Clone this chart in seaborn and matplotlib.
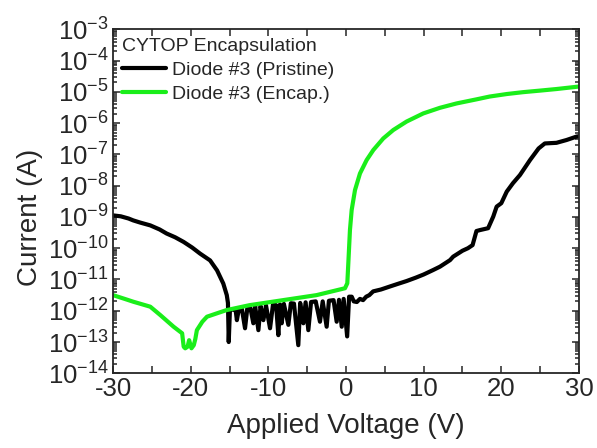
import numpy as np
import pandas as pd
import matplotlib
matplotlib.use("Agg")
import matplotlib.pyplot as plt
import seaborn as sns
from matplotlib.ticker import LogLocator, MultipleLocator, NullFormatter

# %% datos (V, log10 I)
v_pristine = [-30.0, -29.0, -28.0, -27.4, -26.5, -25.2, -24.0, -23.1, -22.0, -20.9,
              -19.8, -18.8, -17.5, -16.6, -15.8, -15.35, -15.2, -15.1,
              -14.95, -14.6, -14.2, -14.05, -13.8, -13.4, -13.0, -12.7, -12.3, -11.93,
              -11.7, -11.28, -11.0, -10.64, -10.3, -9.78, -9.4, -9.0, -8.71, -8.5,
              -8.28, -8.0, -7.42, -7.1, -6.7, -6.14, -5.9, -5.49, -5.2, -4.85, -4.5,
              -3.9, -3.35, -3.0, -2.49, -2.2, -1.6, -1.2, -0.9, -0.55, -0.3, 0.15,
              0.4, 0.74, 1.0, 1.4, 1.8, 2.2, 2.6, 3.0, 3.5, 4.5, 5.7, 6.8, 7.8, 9.0,
              10.0, 11.2, 12.1, 13.4, 13.8, 15.0, 15.7, 16.3, 16.8, 17.25, 18.3, 18.96,
              19.4, 20.0, 20.7, 21.5, 22.4, 23.7, 24.8, 25.6, 27.1, 28.4, 29.7, 30.0]
log_pristine = [-8.95, -8.98, -9.05, -9.11, -9.18, -9.27, -9.40, -9.53, -9.65, -9.80,
                -9.98, -10.17, -10.39, -10.71, -11.13, -11.5, -11.75, -13.0,
                -12.0, -11.95, -12.0, -12.30, -11.95, -11.95, -12.56, -11.9, -11.92, -12.40,
                -11.85, -12.62, -11.85, -12.30, -11.83, -12.56, -11.8, -11.82, -12.78, -11.8,
                -12.40, -11.78, -12.45, -11.76, -11.77, -13.10, -11.75, -12.40, -11.73, -12.62, -11.72,
                -11.70, -12.35, -11.70, -12.51, -11.68, -11.66, -12.35, -11.65, -12.51, -11.62, -12.82,
                -11.55, -11.55, -11.70, -11.72, -11.62, -11.66, -11.55, -11.5, -11.38, -11.32, -11.22, -11.13, -11.05, -10.94,
                -10.84, -10.70, -10.59, -10.38, -10.27, -10.08, -10.0, -9.9, -9.45, -9.42, -9.36, -8.99,
                -8.67, -8.56, -8.19, -7.92, -7.66, -7.18, -6.81, -6.65, -6.63, -6.54, -6.43, -6.42]

v_encap = [-30.0, -28.5, -27.4, -25.2, -23.9, -22.2, -21.1, -20.9, -20.7, -20.4, -20.2,
           -19.9, -19.6, -19.4, -19.2, -18.5, -17.9, -16.6, -15.4, -12.4, -8.1, -3.8,
           -0.13, 0.17, 0.3, 0.51, 0.73, 1.16, 1.8, 2.66, 3.52, 4.8, 6.09, 7.8, 9.95,
           12.1, 14.25, 16.8, 18.5, 20.7, 22.8, 25.0, 27.1, 30.0]
log_encap = [-11.50, -11.62, -11.71, -11.87, -12.14, -12.51, -12.72, -13.15, -13.2, -13.15, -12.94,
             -13.2, -13.1, -12.9, -12.62, -12.35, -12.19, -12.08, -11.98, -11.82, -11.66, -11.50,
             -11.28, -11.12, -10.48, -9.42, -8.78, -8.14, -7.61, -7.18, -6.86, -6.49, -6.22, -5.95, -5.69,
             -5.51, -5.37, -5.24, -5.15, -5.07, -5.01, -4.96, -4.91, -4.83]

series_names = ["Diode #3 (Pristine)", "Diode #3 (Encap.)"]
series_colors = ["#000000", "#1aee1a"]
legend_title = "CYTOP Encapsulation"

df = pd.concat([
    pd.DataFrame({"V": v_pristine, "I": 10.0 ** np.array(log_pristine), "serie": series_names[0]}),
    pd.DataFrame({"V": v_encap, "I": 10.0 ** np.array(log_encap), "serie": series_names[1]}),
])

# %% estilo
sns.set_style("ticks")
plt.rcParams["font.family"] = ["Liberation Sans", "DejaVu Sans"]
plt.rcParams["axes.unicode_minus"] = False
plt.rcParams["mathtext.fontset"] = "custom"
plt.rcParams["mathtext.rm"] = "Liberation Sans"

fig = plt.figure(figsize=(5.97, 4.48), dpi=100)
ax = fig.add_axes([0.1893, 0.1667, 0.7805, 0.7679])

sns.lineplot(data=df, x="V", y="I", hue="serie", palette=series_colors,
             sort=False, estimator=None, linewidth=3.0, ax=ax)

ax.set_yscale("log")
ax.set_xlim(-30, 30)
ax.set_ylim(1e-14, 1e-3)
ax.xaxis.set_major_locator(MultipleLocator(10))
ax.xaxis.set_minor_locator(MultipleLocator(5))
ax.yaxis.set_major_locator(LogLocator(base=10, numticks=30))
ax.yaxis.set_minor_locator(LogLocator(base=10, subs=np.arange(2, 10), numticks=100))
ax.yaxis.set_minor_formatter(NullFormatter())

ax.tick_params(which="both", direction="in", top=True, right=True, width=1.1)
ax.tick_params(which="major", length=5, labelsize=18.5, pad=3)
ax.tick_params(which="minor", length=3)
ax.tick_params(axis="x", which="minor", length=5)
for s in ax.spines.values():
    s.set_linewidth(1.3)

ax.set_xlabel("Applied Voltage (V)", fontsize=20, labelpad=8)
ax.set_ylabel("Current (A)", fontsize=20)
ax.yaxis.set_label_coords(-0.150, 0.453)

leg = ax.legend(title=legend_title, loc="upper left", frameon=False, fontsize=14,
                title_fontsize=14, handlelength=2.3, handletextpad=0.26,
                borderaxespad=0.2, borderpad=0.25, labelspacing=0.33, alignment="left")
for ln in leg.get_lines():
    ln.set_linewidth(3.0)

plt.savefig("out.png", dpi=100)
